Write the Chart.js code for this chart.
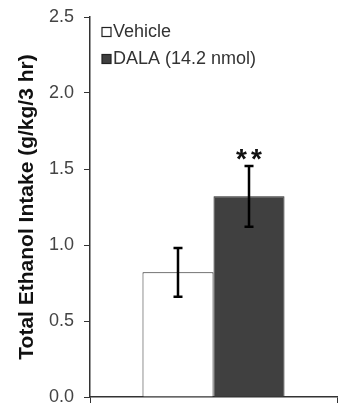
<!DOCTYPE html>
<html>
<head>
<meta charset="utf-8">
<script src="https://cdn.jsdelivr.net/npm/chart.js@4/dist/chart.umd.min.js"></script>
<style>
  html, body { margin: 0; padding: 0; background: #fff; }
  #wrap { width: 339px; height: 409px; }
</style>
</head>
<body>
<div id="wrap"><canvas id="chart"></canvas></div>
<script>
// datos
const groups = ['Vehicle', 'DALA (14.2 nmol)'];
const means = [0.82, 1.32];
const sems = [0.16, 0.20];
const marks = ['', '**'];
const fills = ['#ffffff', '#404040'];
const yTicks = [0.0, 0.5, 1.0, 1.5, 2.0, 2.5];

// barras de error y asteriscos
const errorBars = {
    id: 'errorBars',
    afterDatasetsDraw(chart) {
        const ctx = chart.ctx;
        const y = chart.scales.y;
        ctx.save();
        chart.data.datasets.forEach((ds, i) => {
            const bar = chart.getDatasetMeta(i).data[0];
            const top = y.getPixelForValue(means[i] + sems[i]);
            const bot = y.getPixelForValue(means[i] - sems[i]);
            ctx.strokeStyle = '#000';
            ctx.lineWidth = 2.5;
            ctx.beginPath();
            ctx.moveTo(bar.x, top); ctx.lineTo(bar.x, bot);
            ctx.moveTo(bar.x - 4.5, top); ctx.lineTo(bar.x + 4.5, top);
            ctx.moveTo(bar.x - 4.5, bot); ctx.lineTo(bar.x + 4.5, bot);
            ctx.stroke();
            if (marks[i]) {
                ctx.fillStyle = '#111';
                ctx.font = 'bold 28px "Liberation Sans", Arial, sans-serif';
                ctx.textAlign = 'center';
                ctx.textBaseline = 'alphabetic';
                const n = marks[i].length;
                for (let k = 0; k < n; k++) {
                    ctx.fillText('*', bar.x + (k - (n - 1) / 2) * 15, top + 2);
                }
            }
        });
        ctx.restore();
    }
};

// leyenda dentro del area del grafico
const insideLegend = {
    id: 'insideLegend',
    afterDraw(chart) {
        const ctx = chart.ctx;
        const x0 = chart.chartArea.left + 12;
        ctx.save();
        ctx.font = '18px "Liberation Sans", Arial, sans-serif';
        ctx.textBaseline = 'middle';
        groups.forEach((g, i) => {
            const yc = 32 + i * 27;
            ctx.fillStyle = fills[i];
            ctx.fillRect(x0, yc - 4.5, 9, 9);
            ctx.strokeStyle = '#222';
            ctx.lineWidth = 1.2;
            ctx.strokeRect(x0, yc - 4.5, 9, 9);
            ctx.fillStyle = '#333';
            ctx.fillText(g, x0 + 11, yc);
        });
        ctx.restore();
    }
};

new Chart(document.getElementById('chart'), {
    type: 'bar',
    data: {
        labels: [''],
        datasets: groups.map((g, i) => ({
            label: g,
            data: [means[i]],
            backgroundColor: fills[i],
            borderColor: '#222',
            borderWidth: 1,
            categoryPercentage: 0.575,
            barPercentage: 1.0
        }))
    },
    options: {
        responsive: true,
        maintainAspectRatio: false,
        animation: false,
        layout: { padding: { top: 17, right: 2, bottom: 6, left: 0 } },
        plugins: {
            legend: { display: false },
            tooltip: { enabled: false }
        },
        scales: {
            x: {
                afterFit: (scale) => { scale.height = 6; },
                grid: { display: true, drawOnChartArea: false, color: '#333', tickLength: 6, offset: true },
                border: { color: '#333', width: 1.5 },
                ticks: { display: false }
            },
            y: {
                min: 0,
                max: 2.5,
                afterFit: (scale) => { scale.width = 90; },
                afterBuildTicks: (scale) => { scale.ticks = yTicks.map(v => ({ value: v })); },
                grid: { display: true, drawOnChartArea: false, color: '#333', tickLength: 6 },
                border: { color: '#333', width: 1.5 },
                ticks: {
                    color: '#444',
                    padding: 10,
                    font: { family: '"Liberation Sans", Arial, sans-serif', size: 18, lineHeight: 0.1 },
                    callback: (v) => Number(v).toFixed(1)
                },
                title: {
                    display: true,
                    text: 'Total Ethanol Intake (g/kg/3 hr)',
                    color: '#111',
                    padding: { top: 15, bottom: 0 },
                    font: { family: '"Liberation Sans", Arial, sans-serif', size: 21, weight: 'bold' }
                }
            }
        }
    },
    plugins: [errorBars, insideLegend]
});
</script>
</body>
</html>
